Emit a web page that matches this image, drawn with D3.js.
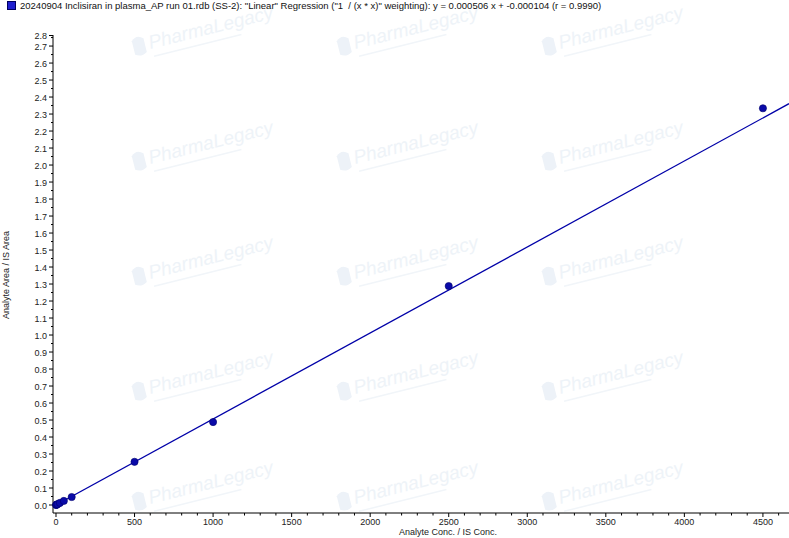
<!DOCTYPE html>
<html><head><meta charset="utf-8">
<script src="https://cdn.jsdelivr.net/npm/d3@7/dist/d3.min.js"></script>
<style>body{margin:0;background:#fff}svg{display:block}</style>
</head><body>
<script>
const titleText = '20240904 Inclisiran in plasma_AP run 01.rdb (SS-2): "Linear" Regression ("1\u00a0 / (x * x)" weighting): y = 0.000506 x + -0.000104 (r = 0.9990)';
const concentrations = [1, 2.5, 5, 10, 25, 50, 100, 500, 1000, 2500, 4500];
const areaRatios = [0.0006, 0.0012, 0.0025, 0.005, 0.0125, 0.024, 0.047, 0.254, 0.488, 1.288, 2.334];
const slope = 0.000506, intercept = -0.000104;
const xTicks = [0, 500, 1000, 1500, 2000, 2500, 3000, 3500, 4000, 4500];
const yTicks = d3.range(0, 28).map(i => +(i / 10).toFixed(1));
const xLabel = "Analyte Conc. / IS Conc.";
const yLabel = "Analyte Area / IS Area";
const wmText = "PharmaLegacy";

const W = 789, H = 538;
const svg = d3.select("body").append("svg").attr("width", W).attr("height", H)
  .style("font-family", "'Liberation Sans', Arial, sans-serif");

// watermark
const wm = svg.append("g");
const wmCols = [190, 395, 600], wmRows = [35, 150, 265, 380, 490];
wmRows.forEach(yy => wmCols.forEach(xx => {
  const g = wm.append("g").attr("transform", `translate(${xx},${yy}) rotate(-14)`);
  g.append("path").attr("d", "M-58,-8 q6,-6 12,0 v14 q-6,4 -12,0 z").attr("fill", "#edf2f8");
  g.append("text").attr("x", -42).attr("y", 4).attr("font-size", 19).attr("fill", "#eef3f8")
    .attr("font-style", "italic").text(wmText);
  g.append("line").attr("x1", -40).attr("x2", 50).attr("y1", 12).attr("y2", 12)
    .attr("stroke", "#f1f5f9").attr("stroke-width", 1.5);
}));

const x = d3.scaleLinear().domain([-19, 4666]).range([53, 789]);
const y = d3.scaleLinear().domain([-0.047, 2.765]).range([513, 35]);

const ax = svg.append("g").attr("font-size", 9).attr("fill", "#222");
// y axis
ax.append("line").attr("x1", 53).attr("x2", 53).attr("y1", 35).attr("y2", 513).attr("stroke", "#000");
d3.range(0, 56).map(i => i * 0.05).filter(v => y(v) >= 35).forEach((v, i) => {
  const major = i % 2 === 0;
  ax.append("line").attr("x1", major ? 49 : 51).attr("x2", 53).attr("y1", y(v)).attr("y2", y(v)).attr("stroke", "#000");
});
yTicks.forEach(v => {
  ax.append("text").attr("x", 47).attr("y", y(v) + 3.5).attr("text-anchor", "end").text(v.toFixed(1));
});
ax.append("line").attr("x1", 49).attr("x2", 53).attr("y1", 35.5).attr("y2", 35.5).attr("stroke", "#000");
ax.append("text").attr("x", 47).attr("y", 39).attr("text-anchor", "end").text("2.8");

// x axis
ax.append("line").attr("x1", 53).attr("x2", 789).attr("y1", 513).attr("y2", 513).attr("stroke", "#000");
d3.range(0, 47).map(i => i * 100).filter(v => x(v) <= 789).forEach(v => {
  const major = v % 500 === 0;
  ax.append("line").attr("x1", x(v)).attr("x2", x(v)).attr("y1", 513).attr("y2", major ? 517 : 515.5).attr("stroke", "#000");
});
xTicks.forEach(v => {
  ax.append("text").attr("x", x(v)).attr("y", 525).attr("text-anchor", "middle").text(v);
});
ax.append("text").attr("x", 448).attr("y", 535).attr("text-anchor", "middle").text(xLabel);
ax.append("text").attr("transform", "translate(9,275) rotate(-90)").attr("text-anchor", "middle").text(yLabel);

// regression line
const x0 = 0, x1 = x.invert(789);
svg.append("line").attr("x1", x(x0)).attr("y1", y(slope * x0 + intercept))
  .attr("x2", x(x1)).attr("y2", y(slope * x1 + intercept))
  .attr("stroke", "#0000a8").attr("stroke-width", 1.3);

// points
svg.append("g").selectAll("circle").data(concentrations).join("circle")
  .attr("cx", d => x(d)).attr("cy", (d, i) => y(areaRatios[i])).attr("r", 3.6)
  .attr("fill", "#0a0aa8").attr("stroke", "#00006a").attr("stroke-width", 0.6);

// title
svg.append("rect").attr("x", 7.5).attr("y", 1.5).attr("width", 8).attr("height", 8)
  .attr("fill", "#1f1fcf").attr("stroke", "#000060");
svg.append("text").attr("x", 20).attr("y", 9).attr("font-size", 9.5).attr("fill", "#111").text(titleText);
</script>
</body></html>
